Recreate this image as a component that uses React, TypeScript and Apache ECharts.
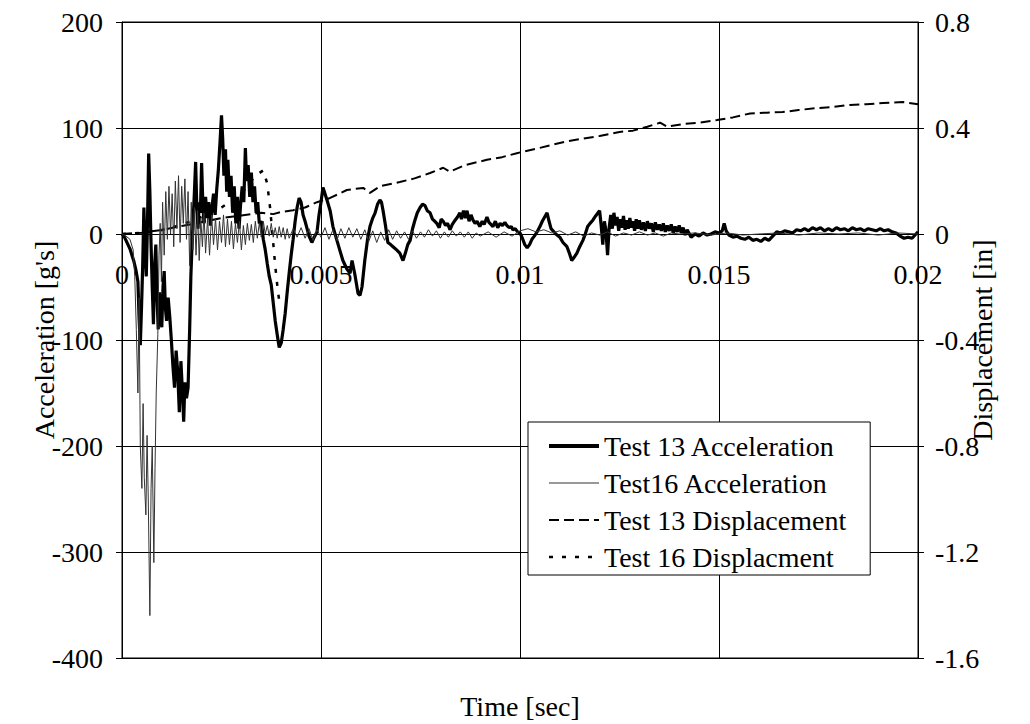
import React, { useEffect, useRef } from "react";
import * as echarts from "echarts";

// time in milliseconds, acceleration in g's
const test13Acceleration: [number, number][] = [
  [0, 0], [0.05, -2], [0.1, -6], [0.15, -10], [0.2, -14], [0.25, -20], [0.3, -26], [0.35, -34], [0.4, -45], [0.43, -80],
  [0.46, -105], [0.49, -70], [0.52, -30], [0.55, 25], [0.58, -15], [0.61, -40], [0.64, 10], [0.67, 76], [0.7, 40], [0.73, -10],
  [0.76, -50], [0.79, -85], [0.82, -30], [0.85, -10], [0.88, -60], [0.91, -90], [0.94, -55], [0.97, -75], [1.0, -88], [1.03, -50],
  [1.06, -35], [1.09, -70], [1.12, -82], [1.16, -60], [1.2, -78], [1.24, -100], [1.28, -125], [1.32, -145], [1.36, -110], [1.4, -130],
  [1.44, -168], [1.48, -120], [1.52, -150], [1.55, -177], [1.58, -140], [1.62, -155], [1.66, -145], [1.7, -90], [1.73, -40], [1.76, -10],
  [1.79, 15], [1.82, 40], [1.85, 68], [1.88, 25], [1.91, 5], [1.94, 30], [1.97, 20], [2.0, 67], [2.03, 30], [2.06, 10],
  [2.1, 35], [2.14, 15], [2.18, 30], [2.22, 8], [2.26, 25], [2.3, 38], [2.34, 18], [2.38, 42], [2.42, 60], [2.46, 85],
  [2.5, 112], [2.53, 90], [2.56, 55], [2.6, 80], [2.63, 40], [2.66, 70], [2.7, 35], [2.74, 55], [2.78, 20], [2.82, 45],
  [2.86, 10], [2.9, 35], [2.94, 5], [2.98, 28], [3.02, 45], [3.06, 30], [3.1, 81], [3.13, 50], [3.17, 65], [3.21, 35],
  [3.25, 58], [3.29, 30], [3.33, 45], [3.37, 20], [3.41, 30], [3.45, 10], [3.5, 12], [3.55, -5], [3.6, -15], [3.65, -28],
  [3.7, -40], [3.75, -48], [3.8, -65], [3.85, -82], [3.9, -95], [3.95, -107], [4.0, -103], [4.05, -90], [4.1, -75], [4.15, -55],
  [4.2, -37], [4.25, -20], [4.3, -5], [4.35, 12], [4.4, 25], [4.45, 34], [4.5, 30], [4.55, 18], [4.6, 12], [4.65, 5],
  [4.7, -2], [4.77, -8], [4.83, -3], [4.9, 2], [4.95, 18], [5.0, 30], [5.05, 44], [5.1, 38], [5.15, 32], [5.23, 22],
  [5.3, 7], [5.4, -6], [5.47, -15], [5.55, -25], [5.65, -33], [5.73, -37], [5.78, -25], [5.85, -38], [5.93, -56], [5.98, -58],
  [6.03, -50], [6.1, -25], [6.17, -5], [6.23, 7], [6.3, 15], [6.36, 20], [6.42, 28], [6.48, 32], [6.52, 30], [6.56, 22],
  [6.62, 8], [6.68, -8], [6.75, -10], [6.81, -12], [6.9, -15], [6.98, -18], [7.06, -25], [7.12, -18], [7.18, -10], [7.24, -6],
  [7.3, 5], [7.36, 13], [7.42, 20], [7.49, 25], [7.55, 28], [7.61, 27], [7.67, 22], [7.74, 20], [7.8, 14], [7.86, 12],
  [7.91, 10], [7.97, 6], [8.02, 14], [8.07, 12], [8.13, 8], [8.18, 10], [8.24, 4], [8.3, 9], [8.37, 13], [8.43, 16],
  [8.49, 20], [8.53, 14], [8.58, 22], [8.63, 15], [8.67, 22], [8.72, 12], [8.77, 18], [8.82, 13], [8.87, 10], [8.92, 12],
  [8.99, 7], [9.05, 12], [9.1, 9], [9.17, 16], [9.22, 11], [9.27, 9], [9.32, 7], [9.38, 12], [9.44, 6], [9.5, 10],
  [9.56, 8], [9.62, 11], [9.67, 8], [9.73, 6], [9.78, 7], [9.82, 4], [9.88, 5], [9.94, 2], [10.0, 1], [10.06, -4],
  [10.12, -10], [10.18, -13], [10.24, -10], [10.3, -5], [10.36, -2], [10.43, 2], [10.5, 7], [10.56, 12], [10.62, 16], [10.68, 20],
  [10.73, 12], [10.78, 5], [10.83, 3], [10.9, 0], [11.0, -3], [11.08, -8], [11.18, -12], [11.24, -18], [11.3, -25], [11.36, -22],
  [11.43, -18], [11.5, -12], [11.58, -6], [11.64, 0], [11.7, 7], [11.76, 10], [11.83, 13], [11.9, 17], [11.96, 20], [12.0, 22],
  [12.04, 8], [12.08, -10], [12.12, 12], [12.16, 3], [12.2, -20], [12.24, 6], [12.28, 18], [12.32, 5], [12.36, 20], [12.4, 8],
  [12.44, 16], [12.48, 3], [12.52, 14], [12.56, 6], [12.6, 17], [12.64, 4], [12.68, 13], [12.72, 5], [12.76, 15], [12.8, 6],
  [12.84, 12], [12.88, 3], [12.92, 14], [12.96, 5], [13.0, 13], [13.05, 4], [13.1, 11], [13.15, 3], [13.2, 12], [13.25, 5],
  [13.3, 10], [13.35, 2], [13.4, 11], [13.45, 4], [13.5, 9], [13.55, 3], [13.6, 10], [13.65, 2], [13.7, 8], [13.75, 3],
  [13.8, 9], [13.85, 1], [13.9, 7], [13.95, 2], [14.0, 8], [14.05, 1], [14.1, 6], [14.15, -1], [14.2, 4], [14.3, -3],
  [14.4, 0], [14.5, -2], [14.6, 1], [14.7, -1], [14.8, 0], [14.9, 2], [15.0, 1], [15.08, 3], [15.13, 10], [15.18, 3],
  [15.25, -1], [15.35, -3], [15.45, -2], [15.55, -4], [15.65, -5], [15.75, -3], [15.85, -6], [15.95, -5], [16.05, -7], [16.15, -4],
  [16.25, -6], [16.35, -2], [16.45, 2], [16.55, 1], [16.65, 3], [16.75, 2], [16.85, 1], [16.95, 4], [17.05, 3], [17.15, 5],
  [17.25, 3], [17.35, 6], [17.45, 4], [17.55, 6], [17.65, 3], [17.75, 5], [17.85, 3], [17.95, 6], [18.05, 4], [18.15, 5],
  [18.25, 3], [18.35, 6], [18.45, 4], [18.55, 5], [18.65, 3], [18.75, 5], [18.85, 4], [18.95, 3], [19.05, 5], [19.15, 3],
  [19.25, 4], [19.35, 2], [19.45, 1], [19.55, -2], [19.65, -4], [19.75, -3], [19.85, -4], [19.95, 0], [20.0, 2],
];

const test16Acceleration: [number, number][] = [
  [0, 0], [0.1, -2], [0.2, -5], [0.28, -15], [0.32, -40], [0.36, -90], [0.4, -150], [0.43, -60], [0.46, -200], [0.5, -240],
  [0.53, -160], [0.56, -230], [0.6, -265], [0.63, -190], [0.66, -250], [0.7, -360], [0.73, -240], [0.76, -200], [0.8, -310], [0.83, -220],
  [0.86, -150], [0.9, -95], [0.93, -20], [0.96, 10], [0.99, -45], [1.02, 30], [1.06, -20], [1.1, 40], [1.14, -5], [1.18, 45],
  [1.22, 0], [1.26, 38], [1.3, -12], [1.34, 50], [1.38, 5], [1.42, 55], [1.46, -8], [1.5, 45], [1.54, 10], [1.58, 52],
  [1.62, -5], [1.66, 40], [1.7, -30], [1.74, 30], [1.78, -15], [1.82, 25], [1.86, -20], [1.9, 22], [1.94, -25], [1.98, 15],
  [2.02, -12], [2.06, 20], [2.1, -18], [2.15, 15], [2.2, -20], [2.25, 18], [2.3, -10], [2.35, 15], [2.4, -15], [2.45, 12],
  [2.5, -8], [2.55, 18], [2.6, -12], [2.65, 14], [2.7, -10], [2.75, 12], [2.8, -14], [2.85, 10], [2.9, -8], [2.95, 12],
  [3.0, -15], [3.05, 8], [3.1, -10], [3.15, 10], [3.2, -6], [3.25, 9], [3.3, -8], [3.35, 12], [3.4, -4], [3.45, 10],
  [3.5, -3], [3.55, 12], [3.6, 0], [3.65, 8], [3.7, -2], [3.75, 10], [3.8, -3], [3.85, 6], [3.9, -4], [3.95, 7],
  [4.0, -3], [4.05, 6], [4.1, -5], [4.15, 5], [4.2, -4], [4.3, 5], [4.4, -3], [4.5, 6], [4.6, -4], [4.7, 5],
  [4.8, -6], [4.9, 4], [5.0, -3], [5.1, 6], [5.2, -5], [5.3, 4], [5.4, -6], [5.5, 5], [5.6, -4], [5.7, 6],
  [5.8, -3], [5.9, 5], [6.0, -5], [6.1, 4], [6.2, -7], [6.3, 3], [6.4, -8], [6.5, 2], [6.6, -6], [6.7, 4],
  [6.8, -5], [6.9, 3], [7.0, -4], [7.1, 2], [7.2, -5], [7.3, 3], [7.4, -4], [7.5, 2], [7.6, -3], [7.7, 4],
  [7.8, -2], [7.9, 3], [8.0, -4], [8.1, 2], [8.2, -3], [8.3, 3], [8.4, -2], [8.5, 2], [8.6, -3], [8.7, 2],
  [8.8, -4], [8.9, 1], [9.0, -2], [9.2, 2], [9.4, -3], [9.6, 2], [9.8, -2], [10.0, 3], [10.2, 5], [10.4, 2],
  [10.6, 4], [10.8, 1], [11.0, 3], [11.2, -1], [11.4, 2], [11.6, -2], [11.8, 1], [12.0, -1], [12.2, 2], [12.4, -2],
  [12.6, 1], [12.8, -1], [13.0, 2], [13.2, -1], [13.4, 1], [13.6, -2], [13.8, 1], [14.0, 0], [14.4, 1], [14.8, -1],
  [15.2, 1], [15.6, -1], [16.0, 0], [16.5, 1], [17.0, -1], [17.5, 1], [18.0, 0], [18.5, 1], [19.0, -1], [19.5, 1], [20.0, 0],
];

// time in milliseconds, displacement in inches
const test13Displacement: [number, number][] = [
  [0, 0], [0.5, 0.005], [1.0, 0.015], [1.5, 0.03], [2.0, 0.045], [2.5, 0.06], [3.0, 0.07], [3.5, 0.08], [3.8, 0.075], [4.0, 0.083],
  [4.3, 0.09], [4.6, 0.1], [4.9, 0.12], [5.23, 0.136], [5.65, 0.166], [6.06, 0.174], [6.23, 0.155], [6.48, 0.18], [6.98, 0.196], [7.35, 0.21],
  [7.74, 0.23], [8.07, 0.25], [8.24, 0.235], [8.62, 0.26], [9.17, 0.28], [9.55, 0.29], [9.92, 0.305], [10.5, 0.325], [11.18, 0.35], [12.0, 0.37],
  [12.5, 0.385], [12.84, 0.39], [13.2, 0.405], [13.52, 0.42], [13.7, 0.405], [14.1, 0.415], [14.52, 0.42], [14.95, 0.43], [15.35, 0.44], [15.78, 0.455],
  [16.2, 0.458], [16.6, 0.46], [17.0, 0.468], [17.46, 0.475], [17.9, 0.48], [18.29, 0.487], [18.7, 0.49], [19.12, 0.494], [19.62, 0.498], [20.0, 0.49],
];

const test16Displacement: [number, number][] = [
  [0, 0], [0.5, 0.004], [1.0, 0.015], [1.5, 0.035], [2.0, 0.065], [2.5, 0.1], [2.8, 0.13], [3.1, 0.17], [3.35, 0.22], [3.55, 0.24],
  [3.65, 0.19], [3.72, 0.1], [3.78, 0.0], [3.85, -0.12], [3.92, -0.22], [3.97, -0.27],
];

const seriesNames = ["Test 13 Acceleration", "Test16 Acceleration", "Test 13 Displacement", "Test 16 Displacment"];
const xTickLabels = ["0", "0.005", "0.01", "0.015", "0.02"];
const leftTickLabels = ["-400", "-300", "-200", "-100", "0", "100", "200"];
const rightTickLabels = ["-1.6", "-1.2", "-0.8", "-0.4", "0", "0.4", "0.8"];

const FONT = "Liberation Serif";
const toSec = (d: [number, number][]) => d.map(([t, v]) => [t / 1000, v]);

export default function App() {
  const ref = useRef<HTMLDivElement>(null);
  useEffect(() => {
    if (!ref.current) return;
    const chart = echarts.init(ref.current, null, { renderer: "svg" });
    const styles: any[] = [
      { color: "#000", width: 3.2, type: "solid" },
      { color: "#333", width: 1, type: "solid" },
      { color: "#000", width: 2, type: [10, 5] },
      { color: "#000", width: 2.5, type: [4, 9] },
    ];
    const legendWidths = [4, 1, 2, 2.5];
    const txt = { fontFamily: FONT, fontSize: 28, color: "#000" };
    chart.setOption({
      animation: false,
      backgroundColor: "#fff",
      textStyle: { fontFamily: FONT, color: "#000" },
      grid: { left: 122, top: 22, right: 112, bottom: 66, show: true, borderColor: "#000", borderWidth: 1 },
      legend: {
        orient: "vertical",
        left: 528,
        top: 422,
        itemWidth: 50,
        itemHeight: 20,
        itemGap: 9,
        padding: [10, 24, 4, 19],
        backgroundColor: "#fff",
        borderColor: "#000",
        borderWidth: 1,
        textStyle: { ...txt },
        itemStyle: { opacity: 0, color: "transparent", borderWidth: 0 },
        data: seriesNames.map((n, i) => ({
          name: n,
          textStyle: { ...txt },
          itemStyle: { opacity: 0, color: "transparent", borderWidth: 0 },
          lineStyle: { ...styles[i], width: legendWidths[i] },
        })),
      },
      graphic: [
        {
          type: "text",
          x: 520,
          y: 706,
          style: {
            text: "Time [sec]",
            fontSize: 28,
            fontFamily: FONT,
            fill: "#000",
            textAlign: "center",
            align: "center",
            textVerticalAlign: "middle",
            verticalAlign: "middle",
          },
        },
      ],
      xAxis: {
        type: "value",
        min: 0,
        max: 0.02,
        interval: 0.005,
        offset: -424,
        axisLine: { show: true, onZero: false, lineStyle: { color: "#000", width: 1 } },
        axisTick: { show: false },
        axisLabel: {
          ...txt,
          margin: 26,
          formatter: (v: number) => xTickLabels[Math.round(v / 0.005)] ?? "",
        },
        splitLine: { show: true, lineStyle: { color: "#000", width: 1 } },
      },
      yAxis: [
        {
          type: "value",
          min: -400,
          max: 200,
          interval: 100,
          name: "Acceleration [g's]",
          nameLocation: "middle",
          nameGap: 64,
          nameRotate: 90,
          nameMoveOverlap: false,
          nameTextStyle: { ...txt },
          axisLine: { show: true, onZero: false, lineStyle: { color: "#000", width: 1 } },
          axisTick: { show: true, inside: false, length: 6, lineStyle: { color: "#000" } },
          axisLabel: {
            ...txt,
            margin: 19,
            formatter: (v: number) => leftTickLabels[Math.round((v + 400) / 100)] ?? "",
          },
          splitLine: { show: true, lineStyle: { color: "#000", width: 1 } },
        },
        {
          type: "value",
          min: -1.6,
          max: 0.8,
          interval: 0.4,
          position: "right",
          name: "Displacement [in]",
          nameLocation: "middle",
          nameGap: 50,
          nameRotate: 90,
          nameMoveOverlap: false,
          nameTextStyle: { ...txt },
          axisLine: { show: true, onZero: false, lineStyle: { color: "#000", width: 1 } },
          axisTick: { show: true, inside: false, length: 6, lineStyle: { color: "#000" } },
          axisLabel: {
            ...txt,
            margin: 17,
            formatter: (v: number) => rightTickLabels[Math.round((v + 1.6) / 0.4)] ?? "",
          },
          splitLine: { show: false },
        },
      ],
      series: [
        { name: seriesNames[0], type: "line", yAxisIndex: 0, data: toSec(test13Acceleration), symbol: "none", lineStyle: styles[0], color: "#000", z: 3 },
        { name: seriesNames[1], type: "line", yAxisIndex: 0, data: toSec(test16Acceleration), symbol: "none", lineStyle: styles[1], color: "#333", z: 4 },
        { name: seriesNames[2], type: "line", yAxisIndex: 1, data: toSec(test13Displacement), symbol: "none", lineStyle: styles[2], color: "#000", z: 2 },
        { name: seriesNames[3], type: "line", yAxisIndex: 1, data: toSec(test16Displacement), symbol: "none", lineStyle: styles[3], color: "#000", z: 2 },
      ],
    });
    return () => chart.dispose();
  }, []);
  return <div ref={ref} style={{ position: "absolute", left: 0, top: 0, width: 1030, height: 724 }} />;
}
